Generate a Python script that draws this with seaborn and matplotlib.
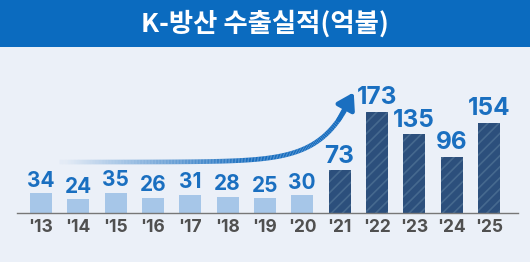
import numpy as np
import pandas as pd
import matplotlib
matplotlib.use("Agg")
import matplotlib.pyplot as plt
import seaborn as sns
from matplotlib.collections import LineCollection

years = ["'13", "'14", "'15", "'16", "'17", "'18", "'19", "'20", "'21", "'22", "'23", "'24", "'25"]
values = [34, 24, 35, 26, 31, 28, 25, 30, 73, 173, 135, 96, 154]
title = "K-방산 수출실적(억불)"

LIGHT = "#a6c6e8"
DARK = "#2c4f7c"
HATCH = "#46698f"
BLUE = "#1a6fc0"
BG = "#ebf0f8"
BAND = "#0b6bbf"

sns.set_theme(style="white")
plt.rcParams["font.family"] = ["Inter", "Noto Sans CJK KR", "DejaVu Sans"]
plt.rcParams["hatch.linewidth"] = 1.2

fig = plt.figure(figsize=(5.3, 2.62), dpi=100)
fig.patch.set_facecolor(BG)

# title band
band = fig.add_axes([0, 1 - 47 / 262, 1, 47 / 262])
band.set_facecolor(BAND)
band.set_xticks([]); band.set_yticks([])
for s in band.spines.values():
    s.set_visible(False)
band.text(0.5, 0.5, title, ha="center", va="center", color="white",
          fontsize=19, fontweight="black", family=["Noto Sans CJK KR", "DejaVu Sans"])

ax = fig.add_axes([17 / 530, 49 / 262, 501 / 530, 164 / 262])
ax.set_facecolor(BG)
df = pd.DataFrame({"year": years, "value": values})
palette = {y: (LIGHT if i < 8 else DARK) for i, y in enumerate(years)}
sns.barplot(data=df, x="year", y="value", hue="year", palette=palette, legend=False,
            width=0.59, ax=ax, saturation=1)

for i, p in enumerate(ax.patches):
    p.set_linewidth(0)
    if i >= 8:
        p.set_hatch("///")
        p.set_edgecolor(HATCH)

for i, v in enumerate(values):
    ax.text(i, v + 4, str(v), ha="center", va="bottom", color=BLUE,
            fontsize=15 if i < 8 else 17.5, fontweight="bold")

ax.set_xlim(-0.64, 12.78)
ax.set_ylim(0, 280)
ax.set_yticks([])
ax.set_xlabel(""); ax.set_ylabel("")
for s in ["top", "right", "left"]:
    ax.spines[s].set_visible(False)
ax.spines["bottom"].set_color("#777777")
ax.spines["bottom"].set_linewidth(1)
ax.tick_params(axis="x", length=0, pad=4, labelsize=12.5, labelcolor="#505050")
for t in ax.get_xticklabels():
    t.set_fontweight("bold")

# rising arrow (decoration)
xs = np.linspace(0.5, 8.25, 200)
ys = 87 + 0.0063 * (np.exp((xs - 0.5) / 0.8) - 1)
pts = np.column_stack([xs, ys]).reshape(-1, 1, 2)
segs = np.concatenate([pts[:-1], pts[1:]], axis=1)
alphas = np.clip((xs[:-1] - 0.5) / 5.0, 0.03, 1.0)
cols = [matplotlib.colors.to_rgba(BLUE, a) for a in alphas]
lc = LineCollection(segs, colors=cols, linewidths=3.4, capstyle="butt")
ax.add_collection(lc)
ax.annotate("", xy=(8.38, 206), xytext=(xs[-8], ys[-8]),
            arrowprops=dict(arrowstyle="-|>,head_length=0.8,head_width=0.5",
                            color=BLUE, lw=3.4, shrinkA=0, shrinkB=0))

fig.savefig("out.png", dpi=100, facecolor=BG)
